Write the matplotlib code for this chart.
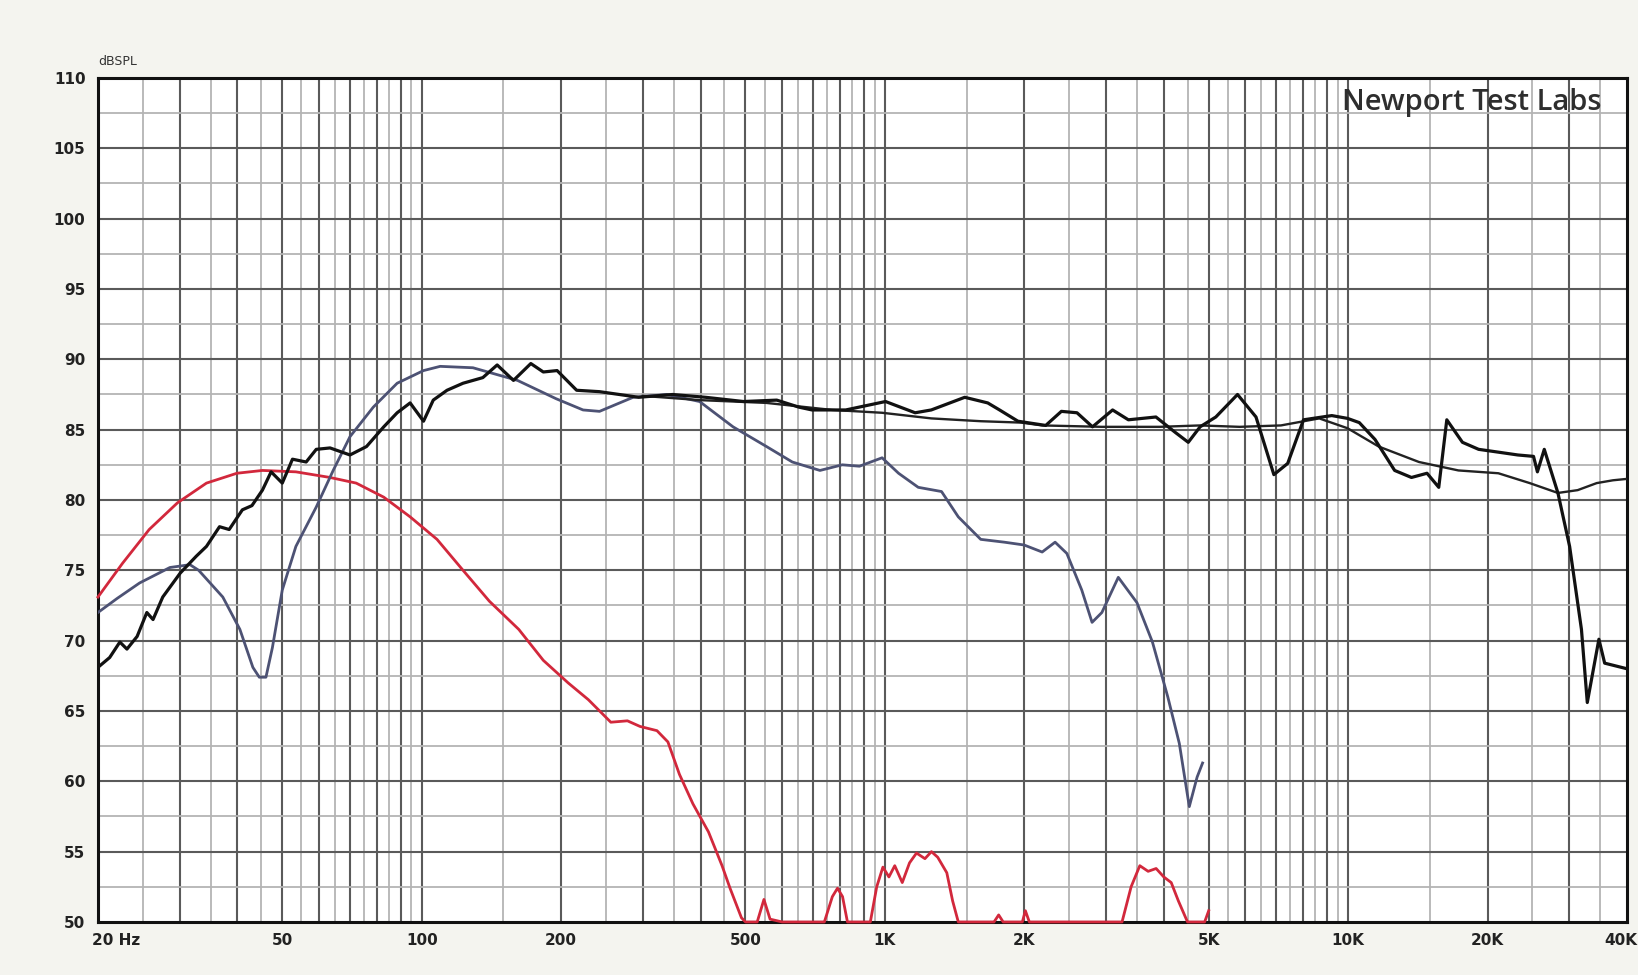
import numpy as np
import matplotlib
matplotlib.use("Agg")
import matplotlib.pyplot as plt
from matplotlib import transforms

# ---- data (Hz, dBSPL) ----
red_f = [20, 22.6, 25.8, 29.7, 34.3, 39.9, 45.3, 53.5, 63.4, 72.2, 82.8, 94.4,
         107.9, 122.8, 140, 162, 183, 207, 229, 256, 278, 296, 322, 340, 360,
         385, 416, 445, 463, 490, 500, 530, 548, 565, 600, 740, 770, 790, 810, 830,
         930, 960, 990, 1020, 1050, 1090, 1130, 1170, 1220, 1260, 1300, 1360,
         1400, 1440, 1720, 1760, 1800, 1980, 2010, 2050, 3250, 3400, 3550,
         3700, 3850, 4000, 4150, 4300, 4500, 4900, 5000]
red_db = [73.1, 75.5, 77.9, 79.8, 81.2, 81.9, 82.1, 82.0, 81.6, 81.2, 80.2, 78.8,
          77.2, 75.0, 72.8, 70.8, 68.6, 67.0, 65.8, 64.2, 64.3, 63.9, 63.6, 62.8,
          60.5, 58.4, 56.4, 54.0, 52.4, 50.3, 50.0, 50.0, 51.6, 50.2, 50, 50, 51.8,
          52.4, 51.8, 50, 50, 52.5, 53.9, 53.2, 54.0, 52.8, 54.2, 54.9, 54.5,
          55.0, 54.6, 53.5, 51.5, 50, 50, 50.5, 50, 50, 50.8, 50, 50, 52.5,
          54.0, 53.6, 53.8, 53.2, 52.8, 51.5, 50, 50, 50.8]

blue_f = [20, 22, 24.6, 28.6, 31.6, 33, 37.2, 40.5, 43.2, 44.6, 46.1, 47.6, 50,
          53.5, 59.2, 64.4, 70, 78.6, 88.5, 100.9, 109.6, 129, 161, 195, 223,
          242, 263, 286, 338, 398, 470, 555, 631, 724, 809, 881, 986, 1070,
          1180, 1325, 1440, 1610, 1810, 1997, 2185, 2330, 2470, 2660, 2800,
          2940, 3190, 3500, 3780, 4080, 4320, 4540, 4720, 4850]
blue_db = [72.0, 73.0, 74.1, 75.2, 75.4, 75.0, 73.1, 70.8, 68.1, 67.4, 67.4, 69.5,
           73.6, 76.7, 79.5, 82.1, 84.5, 86.6, 88.3, 89.2, 89.5, 89.4, 88.5, 87.2,
           86.4, 86.3, 86.8, 87.3, 87.5, 87.0, 85.2, 83.8, 82.7, 82.1, 82.5, 82.4,
           83.0, 81.9, 80.9, 80.6, 78.8, 77.2, 77.0, 76.8, 76.3, 77.0, 76.2, 73.6,
           71.3, 72.0, 74.5, 72.7, 69.9, 66.0, 62.7, 58.2, 60.3, 61.3]

black_f = [20, 21.2, 22.3, 23.1, 24.3, 25.5, 26.3, 27.6, 30.1, 32.6, 34.3, 36.6,
           38.4, 41.0, 43, 45.3, 47.3, 50.0, 52.6, 56.3, 59.2, 63.4, 70.0, 76.0,
           82.8, 88.5, 94.4, 100.9, 105.9, 113.4, 122.8, 135.5, 145.5, 157.8, 172,
           183, 196, 216, 242, 267, 294, 348, 410, 495, 584, 652, 696, 823, 1003,
           1162, 1259, 1487, 1667, 1768, 1937, 2224, 2404, 2598, 2806, 3101, 3354,
           3846, 4236, 4517, 4790, 5180, 5770, 6325, 6913, 7405, 8010, 9220, 9970,
           10570, 11430, 12600, 13700, 14800, 15690, 16330, 17650, 19130, 21100,
           23240, 25130, 25620, 26510, 28370, 30070, 31890, 32830, 34780, 35790,
           40000]
black_db = [68.1, 68.8, 69.9, 69.4, 70.3, 72.0, 71.5, 73.1, 74.8, 76.0, 76.7, 78.1,
            77.9, 79.3, 79.6, 80.7, 82.0, 81.2, 82.9, 82.7, 83.6, 83.7, 83.2, 83.8,
            85.2, 86.2, 86.9, 85.6, 87.1, 87.8, 88.3, 88.7, 89.6, 88.5, 89.7,
            89.1, 89.2, 87.8, 87.7, 87.5, 87.3, 87.5, 87.3, 87.0, 87.1, 86.6, 86.4,
            86.4, 87.0, 86.2, 86.4, 87.3, 86.9, 86.4, 85.6, 85.3, 86.3, 86.2, 85.2,
            86.4, 85.7, 85.9, 84.8, 84.1, 85.2, 85.9, 87.5, 85.9, 81.8, 82.6, 85.7,
            86.0, 85.8, 85.5, 84.3, 82.1, 81.6, 81.9, 80.9, 85.7, 84.1, 83.6, 83.4,
            83.2, 83.1, 82.0, 83.6, 80.5, 76.7, 70.8, 65.6, 70.1, 68.4, 68.0]

smooth_f = [300, 398, 555, 770, 986, 1259, 1610, 1970, 2185, 2940, 3920, 4790,
            5830, 7160, 8660, 9970, 11640, 14220, 17300, 21100, 24660, 28370,
            31300, 34400, 37300, 40000]
smooth_db = [87.4, 87.1, 86.9, 86.4, 86.2, 85.8, 85.6, 85.5, 85.3, 85.2, 85.2, 85.3,
             85.2, 85.3, 85.8, 85.1, 83.8, 82.7, 82.1, 81.9, 81.2, 80.5, 80.7,
             81.2, 81.4, 81.5]

xtick_pos = [20, 50, 100, 200, 500, 1000, 2000, 5000, 10000, 20000, 40000]
xtick_lab = ['20 Hz', '50', '100', '200', '500', '1K', '2K', '5K', '10K', '20K', '40K']
ytick_pos = list(range(50, 111, 5))

# grid: dark lines on round values, light lines half way
dark_v = list(range(30, 101, 10)) + list(range(200, 1001, 100)) + \
    list(range(2000, 10001, 1000)) + [20000, 30000]
light_v = list(range(25, 100, 10)) + list(range(150, 1000, 100)) + \
    list(range(1500, 10000, 1000)) + [15000, 25000, 35000]
dark_h = list(range(55, 110, 5))
light_h = list(np.arange(52.5, 110, 5))

label_font = ['Liberation Sans Narrow', 'DejaVu Sans']

fig = plt.figure(figsize=(16.38, 9.75), dpi=100, facecolor='#f4f4ef')
ax = fig.add_axes([0.0598, 0.0544, 0.9335, 0.8656])
ax.set_facecolor('white')
ax.set_xscale('log')
ax.set_xlim(20, 40000)
ax.set_ylim(50, 110)

for v in light_v:
    ax.axvline(v, color='#b4b4b4', lw=1.3, zorder=1)
for v in dark_v:
    ax.axvline(v, color='#5a5a5a', lw=1.5, zorder=1)
for h in light_h:
    ax.axhline(h, color='#b4b4b4', lw=1.3, zorder=1)
for h in dark_h:
    ax.axhline(h, color='#5a5a5a', lw=1.5, zorder=1)

ax.plot(red_f, red_db, color='#d2283c', lw=2.0, zorder=4, clip_on=False)
ax.plot(blue_f, blue_db, color='#4d5274', lw=2.0, zorder=4)
ax.plot(smooth_f, smooth_db, color='#222222', lw=1.7, zorder=4)
ax.plot(black_f, black_db, color='#111111', lw=2.3, zorder=5)

ax.set_xticks(xtick_pos)
ax.set_xticklabels(xtick_lab)
ax.xaxis.set_minor_locator(matplotlib.ticker.NullLocator())
ax.set_yticks(ytick_pos)
ax.tick_params(length=0, labelsize=11, labelcolor='#222222')
ax.tick_params(axis='y', pad=9)
ax.tick_params(axis='x', pad=8)
for t in ax.get_xticklabels() + ax.get_yticklabels():
    t.set_family(label_font)
    t.set_fontweight('bold')
first = ax.get_xticklabels()[0]
first.set_ha('left')
first.set_transform(first.get_transform() +
                    transforms.ScaledTranslation(-6 / 100, 0, fig.dpi_scale_trans))
last = ax.get_xticklabels()[-1]
last.set_ha('right')
last.set_transform(last.get_transform() +
                   transforms.ScaledTranslation(10 / 100, 0, fig.dpi_scale_trans))

for s in ax.spines.values():
    s.set_linewidth(2.2)
    s.set_color('#111111')
    s.set_zorder(3)

ax.text(0.0, 1.012, 'dBSPL', transform=ax.transAxes, fontsize=9,
        family=label_font, color='#333333', ha='left', va='bottom')
ax.text(0.983, 0.988, 'Newport Test Labs', transform=ax.transAxes,
        fontsize=21, family=['Open Sans', 'DejaVu Sans'], fontweight='semibold',
        color='#2e2e2e', ha='right', va='top', zorder=6)

fig.savefig('out.png', dpi=100, facecolor=fig.get_facecolor())
